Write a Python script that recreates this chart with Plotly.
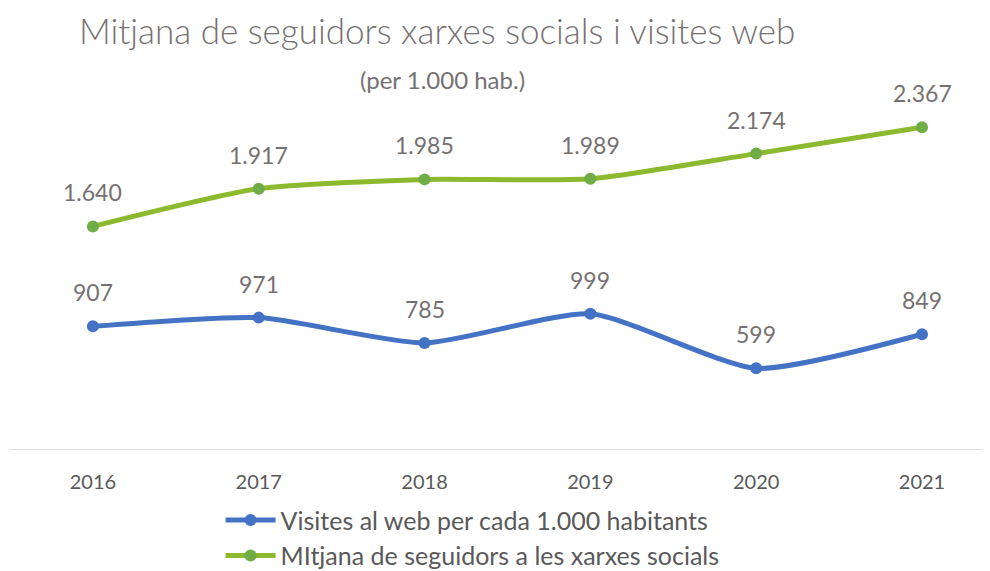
import plotly.graph_objects as go

years = ["2016", "2017", "2018", "2019", "2020", "2021"]
visites = [907, 971, 785, 999, 599, 849]
seguidors = [1640, 1917, 1985, 1989, 2174, 2367]
name_visites = "Visites al web per cada 1.000 habitants"
name_seguidors = "MItjana de seguidors a les xarxes socials"


def fmt(v):
    return f"{v:,}".replace(",", ".")


FONT = "Lato, 'Open Sans', sans-serif"
GRAY = "#767171"
xs = list(range(len(years)))

fig = go.Figure()
fig.add_trace(go.Scatter(
    x=xs, y=visites, name=name_visites, mode="lines+markers",
    line=dict(color="#4472C4", width=5, shape="spline", smoothing=0.6),
    marker=dict(color="#4472C4", size=12),
))
fig.add_trace(go.Scatter(
    x=xs, y=seguidors, name=name_seguidors, mode="lines+markers",
    line=dict(color="#8DB92E", width=5, shape="spline", smoothing=0.6),
    marker=dict(color="#70AD47", size=12),
))

annotations = []
for series in (visites, seguidors):
    for x, v in zip(xs, series):
        annotations.append(dict(
            x=x, y=v, xref="x", yref="y", text=fmt(v), showarrow=False,
            yshift=34, xanchor="center", yanchor="middle",
            font=dict(size=23, color=GRAY, family=FONT)))

annotations += [
    dict(text="Mitjana de seguidors xarxes socials i visites web",
         xref="paper", yref="paper", x=0.436, y=1.027,
         xanchor="center", yanchor="middle", showarrow=False,
         font=dict(size=35, color="#767171", family=FONT, weight=300)),
    dict(text="(per 1.000 hab.)",
         xref="paper", yref="paper", x=0.441, y=0.905,
         xanchor="center", yanchor="middle", showarrow=False,
         font=dict(size=24, color="#767171", family=FONT, weight=400)),
]

fig.update_layout(
    width=990, height=571,
    margin=dict(l=2, r=8, t=33, b=129),
    paper_bgcolor="white", plot_bgcolor="white",
    font=dict(family=FONT, color=GRAY),
    showlegend=True,
    legend=dict(x=0.472, xanchor="center", y=0.143, yanchor="top",
                yref="container",
                orientation="v", font=dict(size=25, color="#595959", family=FONT),
                traceorder="normal", itemwidth=50, tracegroupgap=6),
    xaxis=dict(range=[-0.5, 5.41], tickmode="array",
               tickvals=xs, ticktext=years,
               showgrid=False, zeroline=False, showline=False,
               tickfont=dict(size=20, color="#595959", family=FONT),
               ticks="", ticklabelstandoff=18),
    yaxis=dict(range=[0, 3000], visible=False, showgrid=False, zeroline=False),
    shapes=[dict(type="line", xref="paper", yref="y", x0=0, x1=1, y0=0, y1=0,
                 line=dict(color="#D9D9D9", width=1.5))],
    annotations=annotations,
)

fig.write_html("out.html")
